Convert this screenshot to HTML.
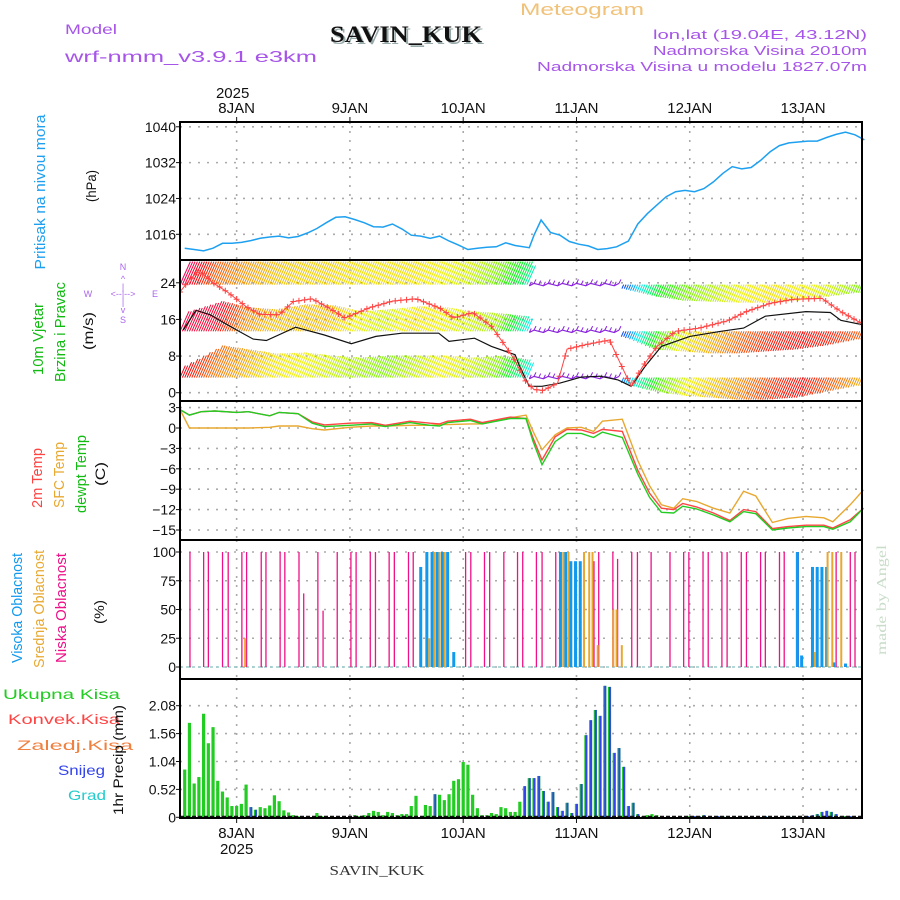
<!DOCTYPE html>
<html><head><meta charset="utf-8"><style>
html,body{margin:0;padding:0;background:#fff;}
svg{display:block;font-family:"Liberation Sans",sans-serif;}
</style></head><body>
<svg id="chart" width="900" height="900" viewBox="0 0 900 900" xmlns="http://www.w3.org/2000/svg">
<rect width="900" height="900" fill="#fff"/>
<g id="grid"></g>
<g id="marks"></g>
<g id="frames"></g>
<g id="labels" font-size="14">
<text x="582" y="15" fill="#f0c27a" font-size="17" text-anchor="middle" textLength="124">Meteogram</text>
<text x="65" y="34" fill="#a655e8" font-size="14" textLength="52">Model</text>
<text x="332" y="44" fill="#9aa" font-family="Liberation Serif,serif" font-weight="bold" font-size="23" textLength="152">SAVIN_KUK</text>
<text x="330" y="42" fill="#111" font-family="Liberation Serif,serif" font-weight="bold" font-size="23" textLength="152">SAVIN_KUK</text>
<text x="65" y="62" fill="#a655e8" font-size="16" textLength="252">wrf-nmm_v3.9.1 e3km</text>
<text x="867" y="39" fill="#a655e8" font-size="13" text-anchor="end" textLength="214">lon,lat (19.04E, 43.12N)</text>
<text x="867" y="55" fill="#a655e8" font-size="13" text-anchor="end" textLength="214">Nadmorska Visina 2010m</text>
<text x="867" y="71" fill="#a655e8" font-size="13" text-anchor="end" textLength="330">Nadmorska Visina u modelu 1827.07m</text>
<text x="377" y="875" fill="#333" font-family="Liberation Serif,serif" font-size="14" text-anchor="middle" textLength="95">SAVIN_KUK</text>
<text transform="translate(886,600) rotate(-90)" text-anchor="middle" fill="#c8dcc8" font-family="Liberation Serif,serif" font-size="14" textLength="110">made by Angel</text>
<text transform="translate(45,192) rotate(-90)" text-anchor="middle" fill="#1ea0f0" font-size="15" textLength="155">Pritisak na nivou mora</text>
<text transform="translate(96,186) rotate(-90)" text-anchor="middle" fill="#111" font-size="14" textLength="32">(hPa)</text>
<text transform="translate(43,339) rotate(-90)" text-anchor="middle" fill="#11bb11" font-size="15" textLength="72">10m Vjetar</text>
<text transform="translate(65,332) rotate(-90)" text-anchor="middle" fill="#11bb11" font-size="15" textLength="100">Brzina i Pravac</text>
<text transform="translate(93,331) rotate(-90)" text-anchor="middle" fill="#111" font-size="14" textLength="38">(m/s)</text>
<g fill="#aa66ee" font-size="9" text-anchor="middle">
<text x="123" y="270">N</text><text x="123" y="282">^</text><text x="123" y="290">|</text>
<text x="88" y="297">W</text><text x="123" y="297">&lt;--|--&gt;</text><text x="155" y="297">E</text>
<text x="123" y="305">|</text><text x="123" y="313">v</text><text x="123" y="323">S</text>
</g>
<text transform="translate(42,478) rotate(-90)" text-anchor="middle" fill="#ff4444" font-size="15" textLength="60">2m Temp</text>
<text transform="translate(64,475) rotate(-90)" text-anchor="middle" fill="#e8a830" font-size="15" textLength="66">SFC Temp</text>
<text transform="translate(86,474) rotate(-90)" text-anchor="middle" fill="#11bb11" font-size="15" textLength="78">dewpt Temp</text>
<text transform="translate(105,474) rotate(-90)" text-anchor="middle" fill="#111" font-size="14" textLength="24">(C)</text>
<text transform="translate(22,608) rotate(-90)" text-anchor="middle" fill="#1199ee" font-size="15" textLength="110">Visoka Oblacnost</text>
<text transform="translate(44,609) rotate(-90)" text-anchor="middle" fill="#e8a830" font-size="15" textLength="118">Srednja Oblacnost</text>
<text transform="translate(66,608) rotate(-90)" text-anchor="middle" fill="#ee1188" font-size="15" textLength="110">Niska Oblacnost</text>
<text transform="translate(104,612) rotate(-90)" text-anchor="middle" fill="#111" font-size="14" textLength="24">(%)</text>
<text x="3" y="699" fill="#22cc22" font-size="14" textLength="117">Ukupna Kisa</text>
<text x="8" y="724" fill="#ff4444" font-size="14" textLength="112">Konvek.Kisa</text>
<text x="17" y="750" fill="#f08040" font-size="14" textLength="116">Zaledj.Kisa</text>
<text x="58" y="775" fill="#3344ee" font-size="14" textLength="47">Snijeg</text>
<text x="68" y="800" fill="#22cccc" font-size="14" textLength="38">Grad</text>
<text transform="translate(123,760) rotate(-90)" text-anchor="middle" fill="#111" font-size="14" textLength="110">1hr Precip (mm)</text>
</g>
</svg>
<script>
// ---- data ----
const dayLabels = ["8JAN","9JAN","10JAN","11JAN","12JAN","13JAN"];
const dayHours = [12,36,60,84,108,132];
const yearLabel = "2025";
const pTicks = [1040,1032,1024,1016];
const wTicks = [24,16,8,0];
const tTicks = [3,0,-3,-6,-9,-12,-15];
const cTicks = [100,75,50,25,0];
const rTicks = [2.08,1.56,1.04,0.52,0];
const rTickLabels = ["2.08","1.56","1.04","0.52","0"];

const pHours = [1,3,5,7,9,11,13,15,17,19,21,23,25,27,29,31,33,35,37,39,41,43,45,47,49,51,53,55,57,59,61,63,65,67,69,71,74,75,76.5,78.5,80.5,82.5,84.5,86.5,88.5,90.5,92.5,95,97,99,101,103,105,107,109,111,113,115,117,119,121,123,125,127,129,131,133,135,137,139,141,143,145];
const pressure = [1012.9,1012.6,1012.3,1012.9,1014.0,1014.0,1014.2,1014.6,1015.1,1015.4,1015.6,1015.2,1015.5,1016.3,1017.3,1018.6,1019.8,1019.9,1019.3,1018.6,1017.7,1017.6,1018.3,1017.2,1015.8,1015.6,1015.1,1015.6,1014.5,1013.6,1012.6,1012.9,1013.1,1013.2,1014.1,1013.5,1013.0,1015.8,1019.2,1016.4,1015.8,1014.4,1013.8,1013.4,1012.6,1012.8,1013.2,1014.5,1018.3,1020.6,1022.5,1024.4,1025.5,1025.8,1025.5,1026.2,1027.7,1029.6,1031.1,1030.6,1030.9,1032.5,1034.4,1035.8,1036.4,1036.6,1036.8,1036.8,1037.6,1038.3,1038.8,1038.2,1037.1];

const wsHours = [0.7,3.4,6.4,12,15.5,18.3,24.5,30.6,36.3,41.5,47,54.8,57,62.4,66,71,72,74,76.7,80.5,85,89,92.8,95.6,98.5,102,108,114.6,119.4,124,132.6,137.8,140,144.8];
const windSpeed = [13.7,18.0,17.0,13.7,11.7,11.4,14.3,12.6,10.7,12.3,13.0,13.0,11.2,11.9,10.1,8.3,5.7,1.4,1.4,2.1,3.4,3.6,2.8,1.4,5.7,10.1,12.3,13.4,14.1,16.7,17.7,17.5,15.8,14.8];
const gustHours = [0,2,4,7,10,14,17,21,24,28,31,35,40,45,50,55,58,62,66,69,71,73,75,77,80,82,86,91,93,95.6,98,101,105,110,116,120,125,130,136,140,145];
const windGust = [22,24.6,26.7,24,22,18.8,17.1,17.0,19.9,20.5,18.8,16.3,18.5,20,20.5,18.5,16.3,17.5,14.5,10.1,7,2.8,0.7,0.5,2.1,9.5,10.5,11.5,7,1.4,5.7,10,13.4,14.1,15.7,17.7,19.5,20.4,20.6,17.7,14.8];

const barbHours = [0,6,12,18,24,30,36,42,48,54,60,66,72,78,84,90,96,102,108,114,120,126,132,138,144];
const hueTop = [340,380,395,405,410,410,415,415,415,420,430,450,500,630,630,630,560,480,450,435,420,415,420,430,450];
const hueMid = [345,350,390,405,405,405,420,430,415,420,430,440,520,630,630,630,560,460,415,400,380,365,360,365,380];
const hueLow = [355,385,400,415,420,430,440,450,435,420,430,450,520,630,630,630,540,460,420,405,390,370,360,380,400];
const lenTop = [-23,-23,-23,-23,-23,-23,-23,-23,-23,-23,-23,-23,-23,0,0,0,6,12,16,17,18,18,16,12,8];
const lenMid = [-20,-30,-24,-22,-27,-26,-20,-22,-25,-24,-20,-18,-15,0,0,0,8,18,20,22,22,20,18,14,8];
const lenLow = [-12,-32,-28,-24,-25,-22,-20,-22,-22,-22,-20,-22,-18,0,0,0,8,14,18,20,22,22,20,14,8];

const tHours = [0,2,4.5,7.4,12,14.5,19,21,25,28,30.6,36,40.6,43.5,48.7,53,55,56.7,61.5,64,70,73.3,74.8,76.7,79.5,82,85,87.6,89.5,93.7,97,99.5,102,104.6,106.5,109.4,113,116.5,119.4,122,125.5,128.8,132.6,136.4,138.3,142,144.8];
const temp2m = [2.7,1.9,2.4,2.5,2.3,2.4,1.8,2.3,2.1,0.9,0.45,0.7,0.8,0.4,1.0,0.7,0.6,1.0,1.3,0.8,1.6,1.4,-1.5,-4.7,-1.3,-0.2,-0.3,-0.8,-0.2,-0.5,-6.2,-9.6,-11.8,-12.0,-11.1,-11.6,-12.5,-13.6,-12.0,-12.3,-14.8,-14.5,-14.3,-14.3,-14.7,-13.5,-11.8];
const tempDew = [2.7,1.9,2.4,2.5,2.3,2.4,1.8,2.3,2.1,0.7,0.2,0.4,0.6,0.2,0.8,0.4,0.3,0.8,1.1,0.6,1.4,1.4,-2.0,-5.4,-2.0,-0.8,-0.8,-1.4,-0.6,-1.4,-6.8,-10.2,-12.4,-12.5,-11.5,-11.9,-12.8,-13.8,-12.3,-12.6,-15.0,-14.7,-14.5,-14.5,-14.9,-13.8,-11.8];
const tempSfc = [2.7,0,0,0,0,0,0.1,0.3,0.3,-0.1,-0.3,0.1,0.3,0.3,0.4,0.4,0.5,0.5,0.6,0.6,1.5,1.9,-0.5,-3.2,-1.0,0.0,0.1,-0.5,1.0,1.3,-4.8,-8.5,-11.3,-11.8,-10.4,-10.8,-11.8,-12.5,-9.3,-10.0,-13.9,-13.3,-13.0,-13.2,-13.8,-11.3,-9.1];

const lowHours = [2.1,5,6,9,10.2,13.1,14.1,17.2,18.2,21.2,22.2,25.2,26.2,29.2,30.3,33.3,36.2,37.3,40.3,41.4,44.3,45.4,48.4,49.4,60.5,61.6,64.5,65.6,68.6,71.5,72.6,75.5,76.7,79.6,80.7,87.7,88.7,91.7,92.7,95.7,96.9,99.8,103.8,106.7,107.8,110.8,111.9,114.8,115.9,118.9,120,123,124,127,128,131,139,142,143];
const lowCloud = [100,100,100,100,100,100,100,100,100,100,100,100,64,100,49,100,100,100,100,100,100,100,100,100,100,100,100,100,100,100,100,100,100,100,100,92,100,100,94,100,100,100,100,100,100,100,100,100,100,100,100,100,100,100,100,100,100,100,100];
const highHours = [51,52.3,53.4,54.5,55.6,56.7,58,80.6,81.7,82.8,83.8,84.8,130.8,131.7,134,135,136,137,138.5,141];
const highCloud = [87,100,100,100,100,100,13,100,100,92,92,92,100,10,87,87,87,87,4,3];
const midHours = [13.8,52.8,53.9,55,56.1,81.2,82.3,85.6,86.7,87.4,88.5,91.8,92.5,93.6,134.5,137.2,138.2,140.1];
const midCloud = [25,25,100,100,100,100,100,100,100,100,19,50,50,19,13,100,100,100];

const precipTotal = [0,0.89,1.76,0.63,0.75,1.93,1.38,1.68,0.68,0.48,0.37,0.21,0.21,0.25,0.61,0.19,0.14,0.19,0.17,0.22,0.41,0.30,0.13,0.09,0.04,0.02,0,0.02,0,0.08,0.02,0,0,0,0,0,0,0.04,0.02,0.04,0.08,0.12,0.10,0.04,0.10,0.08,0.04,0.06,0.06,0.21,0.40,0,0.23,0.21,0.43,0.42,0.32,0.43,0.68,0.71,1.03,0.98,0.42,0.17,0.04,0.04,0.08,0.06,0.19,0.17,0.10,0.10,0.29,0.58,0.73,0.73,0.77,0.49,0.29,0.47,0.19,0.12,0.27,0.08,0.25,0.62,1.53,1.81,2.0,1.89,2.45,2.43,1.20,1.29,0.94,0.21,0.27,0.06,0.02,0.04,0.06,0.04,0,0,0,0,0,0,0.02,0.02,0.02,0.04,0,0,0.02,0.02,0,0,0,0,0,0,0,0,0.02,0,0,0,0,0.02,0,0,0,0.02,0.04,0.06,0.10,0.12,0.10,0.06,0.02,0.02,0.02,0,0];
const snowHours = [15,16,54,73,74,75,76,77,78,79,80,81,82,83,84,85,86,87,88,89,90,91,92,93,94,95,96,97,108,109,110,111,114,115,124,129,133,134,135,136,137,138,139,140,141,142];

// ---- axes ----
const X0 = 180, X1 = 862, HSTEP = 4.72;
const X = h => X0 + h * HSTEP;
const yP = p => 234.3 - (p - 1016) * 4.48;
const yW = s => 392.7 - s * 4.58;
const yT = t => 428 - t * 6.8;
const yC = c => 667 - c * 1.15;
const yR = r => 817.3 - r * 53.66;
const panels = [[122,260],[260,401],[401,540],[540,679],[679,818]];

const NS = "http://www.w3.org/2000/svg";
function mk(tag, attrs, parent) {
  const e = document.createElementNS(NS, tag);
  for (const k in attrs) e.setAttribute(k, attrs[k]);
  parent.appendChild(e);
  return e;
}
document.querySelectorAll("text[textLength]").forEach(t => t.setAttribute("lengthAdjust", "spacingAndGlyphs"));
const gGrid = document.getElementById("grid");
const gMarks = document.getElementById("marks");
const gFrames = document.getElementById("frames");
const gLab = document.getElementById("labels");
function interp(hs, vs, h) {
  if (h <= hs[0]) return vs[0];
  for (let i = 1; i < hs.length; i++) if (h <= hs[i]) { const f = (h - hs[i-1]) / (hs[i] - hs[i-1]); return vs[i-1] + f * (vs[i] - vs[i-1]); }
  return vs[vs.length - 1];
}
function hline(y) {
  const l = mk("line", {x1: X0, x2: X1, y1: y, y2: y, stroke: "#aaa", "stroke-width": 1.6, "stroke-dasharray": "2,7"}, gGrid);
  
  
}
function tickLabel(y, txt) {
  const t = mk("text", {x: 176, y: y + 5, "text-anchor": "end", "font-size": 14, fill: "#111"}, gLab);
  t.textContent = txt;
  
  
  mk("line", {x1: 176, x2: 181, y1: y, y2: y, stroke: "#111", "stroke-width": 1}, gFrames);
}
dayHours.forEach(h => {
  panels.forEach(p => {
    const l = mk("line", {x1: X(h), x2: X(h), y1: p[0], y2: p[1], stroke: "#aaa", "stroke-width": 1.6, "stroke-dasharray": "2,7"}, gGrid);
    
    
  });
});
pTicks.forEach(v => { hline(yP(v)); tickLabel(yP(v), String(v)); });
wTicks.forEach(v => { hline(yW(v)); tickLabel(yW(v), String(v)); });
tTicks.forEach(v => { hline(yT(v)); tickLabel(yT(v), v < 0 ? "\u2212" + Math.abs(v) : String(v)); });
cTicks.forEach(v => { hline(yC(v)); tickLabel(yC(v), String(v)); });
rTicks.forEach((v, i) => { if (v > 0) hline(yR(v)); tickLabel(yR(v), rTickLabels[i]); });

dayHours.forEach((h, i) => {
  const t1 = mk("text", {x: X(h), y: 113, "text-anchor": "middle", "font-size": 15, fill: "#111"}, gLab);
  t1.textContent = dayLabels[i];
  
  
  const t2 = mk("text", {x: X(h), y: 838, "text-anchor": "middle", "font-size": 15, fill: "#111"}, gLab);
  t2.textContent = dayLabels[i];
  
  
  mk("line", {x1: X(h), x2: X(h), y1: 117, y2: 122, stroke: "#111"}, gFrames);
  mk("line", {x1: X(h), x2: X(h), y1: 818, y2: 823, stroke: "#111"}, gFrames);
});
const yr1 = mk("text", {x: X(dayHours[0]) - 4, y: 98, "text-anchor": "middle", "font-size": 15, fill: "#111"}, gLab);
yr1.textContent = yearLabel;


const yr2 = mk("text", {x: X(dayHours[0]), y: 854, "text-anchor": "middle", "font-size": 15, fill: "#111"}, gLab);
yr2.textContent = yearLabel;



// ---- pressure ----
const pLine = mk("polyline", {points: pHours.map((h, i) => X(h).toFixed(1) + "," + yP(pressure[i]).toFixed(1)).join(" "), fill: "none", stroke: "#1ea0f0", "stroke-width": 1.5}, gMarks);



// ---- wind barbs ----
const clip2 = mk("clipPath", {id: "cw"}, gMarks);
mk("rect", {x: X0, y: 261, width: X1 - X0, height: 139}, clip2);
const gWind = mk("g", {"clip-path": "url(#cw)"}, gMarks);


const bands = [[yW(23.6), hueTop, lenTop], [yW(13.4), hueMid, lenMid], [yW(3.3), hueLow, lenLow]];
bands.forEach(b => {
  const base = b[0];
  const gb = mk("g", {}, gWind);
  
  
  let purple = [];
  for (let h = 0; h <= 145; h += 1) {
    const len = interp(barbHours, b[2], h);
    const hue = interp(barbHours, b[1], h);
    const x = X(h);
    if (h > 73 && h < 94) {
      const jy = base + ((h % 3) - 1) * 1.2;
      purple.push(x.toFixed(1) + "," + jy.toFixed(1));
      mk("line", {x1: x, y1: jy, x2: x + 2, y2: jy - 4, stroke: "#8a22dd", "stroke-width": 1}, gb);
      continue;
    }
    const col = "hsl(" + (hue % 360).toFixed(0) + ",95%,48%)";
    const dx = -len * 0.45;
    for (let s = 0; s < 2; s++) {
      const xs = x + s * 2.36;
      mk("line", {x1: xs, y1: base, x2: xs + dx, y2: base + len, stroke: col, "stroke-width": 1}, gb);
    }
  }
  mk("polyline", {points: purple.join(" "), fill: "none", stroke: "#8a22dd", "stroke-width": 1.2}, gb);
});
const wsLine = mk("polyline", {points: wsHours.map((h, i) => X(h).toFixed(1) + "," + yW(windSpeed[i]).toFixed(1)).join(" "), fill: "none", stroke: "#111", "stroke-width": 1.2}, gWind);


const gustLine = mk("polyline", {points: gustHours.map((h, i) => X(h).toFixed(1) + "," + yW(windGust[i]).toFixed(1)).join(" "), fill: "none", stroke: "#ff4444", "stroke-width": 1}, gWind);


for (let h = 0; h <= 145; h += 1.2) {
  const x = X(h), y = yW(interp(gustHours, windGust, h));
  const c = mk("path", {d: `M${x-3},${y}h6M${x},${y-3}v6`, stroke: "#ff4444", "stroke-width": 1}, gWind);
  
  
}

// ---- temperature ----
[[tempSfc, "#e8a830", "sfc-temp-line"], [temp2m, "#ff4444", "temp-2m-line"], [tempDew, "#22cc22", "dewpoint-line"]].forEach(s => {
  const l = mk("polyline", {points: tHours.map((h, i) => X(h).toFixed(1) + "," + yT(s[0][i]).toFixed(1)).join(" "), fill: "none", stroke: s[1], "stroke-width": 1.4}, gMarks);
  
  
});

// ---- clouds ----
mk("line", {x1: X0, x2: X1, y1: yC(0), y2: yC(0), stroke: "#9cc", "stroke-width": 1.5, "stroke-dasharray": "3,3"}, gMarks);
lowHours.forEach((h, i) => {
  const r = mk("rect", {x: X(h) - 0.6, y: yC(lowCloud[i]), width: 1.3, height: yC(0) - yC(lowCloud[i]), fill: "#ee1188"}, gMarks);
  
  
});
highHours.forEach((h, i) => {
  const r = mk("rect", {x: X(h) - 1.5, y: yC(highCloud[i]), width: 3, height: yC(0) - yC(highCloud[i]), fill: "#1199ee"}, gMarks);
  
  
});
midHours.forEach((h, i) => {
  const r = mk("rect", {x: X(h) - 1, y: yC(midCloud[i]), width: 2, height: yC(0) - yC(midCloud[i]), fill: "#e8a830"}, gMarks);
  
  
});

// ---- precipitation ----
precipTotal.forEach((v, h) => {
  if (v <= 0) return;
  const r = mk("rect", {x: X(h) - 1.6, y: yR(v), width: 3.2, height: yR(0) - yR(v), fill: "#22cc22"}, gMarks);
  
  
  if (snowHours.indexOf(h) >= 0) {
    const s = mk("rect", {x: X(h) - 0.6, y: yR(v), width: 2, height: yR(0) - yR(v), fill: "#3344ee"}, gMarks);
    
    
  }
});
mk("line", {x1: X0, x2: X1, y1: 817, y2: 817, stroke: "#111", "stroke-width": 2.5, "stroke-dasharray": "4,2"}, gMarks);

// ---- frames ----
panels.forEach(p => {
  const r = mk("rect", {x: X0, y: p[0], width: X1 - X0, height: p[1] - p[0], fill: "none", stroke: "#000", "stroke-width": 2}, gFrames);
  
  
});
</script>
</body></html>
